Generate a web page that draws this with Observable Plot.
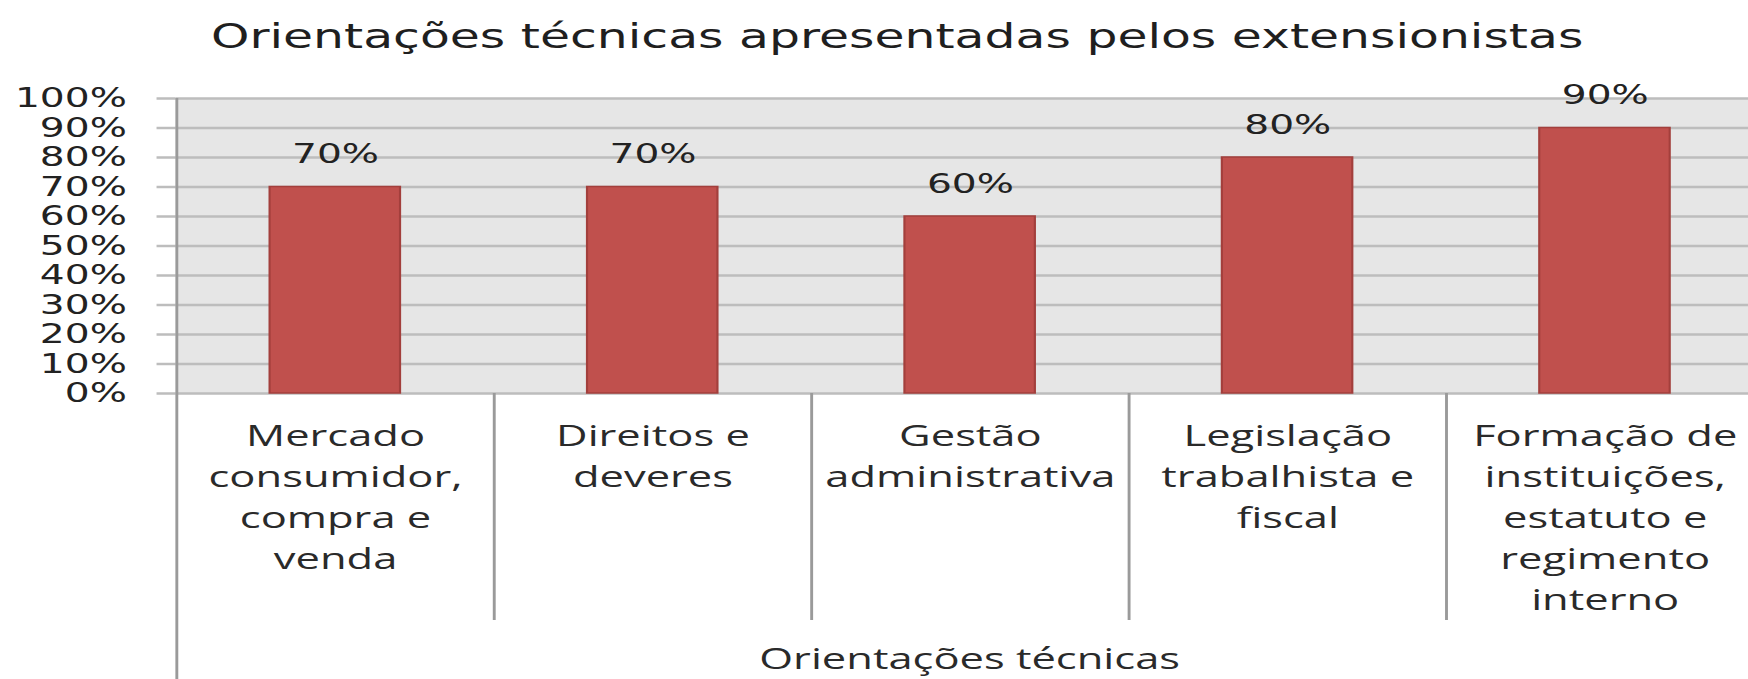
<!DOCTYPE html>
<html>
<head>
<meta charset="utf-8">
<script src="https://cdn.jsdelivr.net/npm/d3@7"></script>
<script src="https://cdn.jsdelivr.net/npm/@observablehq/plot@0.6"></script>
<style>
  html, body { margin: 0; padding: 0; background: #fff; overflow: hidden; }
  #wrap { width: 1206px; transform: scaleX(1.4494); transform-origin: 0 0; }
  #title { height: 70px; box-sizing: border-box; padding-top: 20px; padding-left: 32px; text-align: center;
           font-family: "DejaVu Sans"; font-size: 33.7px; line-height: 1; color: #1f1f1f; white-space: nowrap; }
  #chart svg { overflow: hidden; }
</style>
</head>
<body>
<div id="wrap">
  <div id="title"></div>
  <div id="chart"></div>
</div>
<script>
const chartTitle = "Orientações técnicas apresentadas pelos extensionistas";
const axisTitle = "Orientações técnicas";
const categories = [
  "Mercado consumidor, compra e venda",
  "Direitos e deveres",
  "Gestão administrativa",
  "Legislação trabalhista e fiscal",
  "Formação de instituições, estatuto e regimento interno"
];
const categoryLines = [
  ["Mercado", "consumidor,", "compra e", "venda"],
  ["Direitos e", "deveres"],
  ["Gestão", "administrativa"],
  ["Legislação", "trabalhista e", "fiscal"],
  ["Formação de", "instituições,", "estatuto e", "regimento", "interno"]
];
const values = [0.70, 0.70, 0.60, 0.80, 0.90];
const yTicks = [0, 0.1, 0.2, 0.3, 0.4, 0.5, 0.6, 0.7, 0.8, 0.9, 1.0];

document.getElementById("title").textContent = chartTitle;

const W = 1206, H = 609;
const mL = 121, mR = -10, mT = 28, mB = 286;
const step = (W - mL - mR) / categories.length;
const pct = d3.format(".0%");
const data = categories.map((c, i) => ({cat: c, value: values[i], label: categoryLines[i].join("\n")}));

const textColor = "#222";
const gridColor = "#bdbdbd";
const axisColor = "#9a9a9a";

const chart = Plot.plot({
  width: W,
  height: H,
  marginLeft: mL,
  marginRight: mR,
  marginTop: mT,
  marginBottom: mB,
  style: {background: "transparent", color: textColor},
  x: {domain: categories, paddingInner: 0.59, paddingOuter: 0.295, axis: null},
  y: {domain: [0, 1], axis: null},
  marks: [
    Plot.frame({fill: "#e6e6e6", stroke: "none"}),
    Plot.ruleY(yTicks, {stroke: gridColor, strokeWidth: 2.5}),
    Plot.axisY({ticks: yTicks, tickFormat: pct, tickSize: 13, tickPadding: 21, stroke: gridColor, strokeWidth: 2.5,
                fontSize: 27, fontFamily: "DejaVu Sans", fill: textColor, label: null}),
    Plot.barY(data, {x: "cat", y: "value", fill: "#c0504d", stroke: "#a33f3c", strokeWidth: 1.5}),
    Plot.text(data, {x: "cat", y: "value", text: d => pct(d.value), dy: -24, lineAnchor: "bottom",
                     fontSize: 27, fontFamily: "DejaVu Sans", fill: textColor}),
    Plot.ruleX([categories[0]], {dx: -step / 2, stroke: axisColor, strokeWidth: 2}),
    Plot.axisX({ticks: categories.slice(1), tickSize: 227, dx: -step / 2, stroke: axisColor, strokeWidth: 2,
                fill: "none", label: null}),
    Plot.axisX({ticks: [categories[0]], tickSize: 286, dx: -step / 2, stroke: axisColor, strokeWidth: 2,
                fill: "none", label: null}),
    Plot.text(data, {x: "cat", text: "label", frameAnchor: "bottom", lineAnchor: "top", dy: 24, lineHeight: 1.36,
                     fontSize: 30, fontFamily: "Open Sans", fill: "#2a2a2a"}),
    Plot.text([axisTitle], {text: d => d, frameAnchor: "bottom", lineAnchor: "top", dy: 254,
                            fontSize: 30, fontFamily: "Open Sans", fill: "#2a2a2a"})
  ]
});
document.getElementById("chart").appendChild(chart);
</script>
</body>
</html>
